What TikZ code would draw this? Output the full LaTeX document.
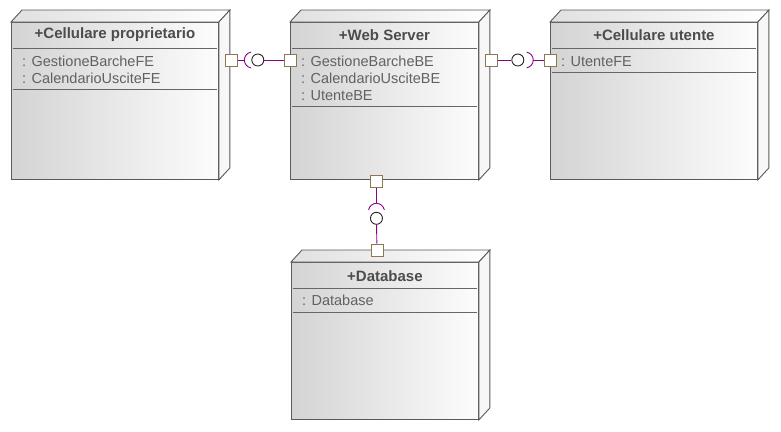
\documentclass[tikz,border=0pt]{standalone}
\usepackage{fontspec}
\setmainfont{Liberation Sans}
\usepackage{tikz}
\usetikzlibrary{positioning, calc}

\definecolor{linkpurple}{RGB}{139,0,139}
\definecolor{portbrown}{RGB}{140,120,80}

\begin{document}
\begin{tikzpicture}[
    x=1pt, y=-1pt,
    device/.style={draw=black!65, line width=0.9pt, anchor=north west, inner sep=0pt, left color=black!17, right color=black!1},
    topface/.style={draw=black!65, line width=0.9pt, left color=black!12, right color=white},
    sideface/.style={draw=black!65, line width=0.9pt, fill=black!3},
    sepline/.style={draw=black!60, line width=0.8pt},
    devtitle/.style={font=\fontsize{15}{17}\selectfont\bfseries, text=black!70, inner sep=0pt},
    attr/.style={font=\fontsize{14.5}{17}\selectfont, text=black!62, anchor=base west, inner sep=0pt},
    port/.style={draw=portbrown, fill=white, line width=0.9pt, minimum size=12pt, inner sep=0pt},
    ball/.style={circle, draw=black!85, fill=white, line width=0.9pt, minimum size=12pt, inner sep=0pt},
    link/.style={draw=linkpurple, line width=0.9pt},
]
\useasboundingbox (0,0) rectangle (781,431);

\node[device, minimum width=207pt, minimum height=157pt] (prop) at (11,22) {};
\node[device, minimum width=188pt, minimum height=157pt] (web) at (290,22) {};
\node[device, minimum width=207pt, minimum height=157pt] (utente) at (550,22) {};
\node[device, minimum width=187pt, minimum height=157pt] (db) at (291,262) {};

\foreach \n/\h in {prop/67, web/84, utente/50, db/50} {
  \draw[topface] (\n.north west) -- ++(11,-12) -- ([shift={(11,-12)}]\n.north east) -- (\n.north east) -- cycle;
  \draw[sideface] (\n.north east) -- ++(11,-12) -- ([shift={(11,-12)}]\n.south east) -- (\n.south east) -- cycle;
  \draw[sepline] ([shift={(2,26)}]\n.north west) -- ([shift={(-2,26)}]\n.north east);
  \draw[sepline] ([shift={(2,\h)}]\n.north west) -- ([shift={(-2,\h)}]\n.north east);
}

\node[devtitle] (prop-t) at ([shift={(0,13)}]prop.north) {+Cellulare proprietario};
\node[devtitle] (web-t) at ([shift={(0,13)}]web.north) {+Web Server};
\node[devtitle] (utente-t) at ([shift={(0,13)}]utente.north) {+Cellulare utente};
\node[devtitle] (db-t) at ([shift={(0,14)}]db.north) {+Database};

\node[attr] (prop-a1) at ([shift={(11,44)}]prop.north west) {: GestioneBarcheFE};
\node[attr] (prop-a2) at ([shift={(11,61)}]prop.north west) {: CalendarioUsciteFE};
\node[attr] (web-a1) at ([shift={(11,44)}]web.north west) {: GestioneBarcheBE};
\node[attr] (web-a2) at ([shift={(11,61)}]web.north west) {: CalendarioUsciteBE};
\node[attr] (web-a3) at ([shift={(11,78)}]web.north west) {: UtenteBE};
\node[attr] (utente-a1) at ([shift={(11,44)}]utente.north west) {: UtenteFE};
\node[attr] (db-a1) at ([shift={(11,43)}]db.north west) {: Database};

\node[port] (prop-p) at ([shift={(13,38)}]prop.north east) {};
\node[port] (web-pl) at ([shift={(0,38)}]web.north west) {};
\node[port] (web-pr) at ([shift={(13,38)}]web.north east) {};
\node[port] (utente-p) at ([shift={(0,38)}]utente.north west) {};
\node[port] (web-pb) at ([shift={(-8,2)}]web.south) {};
\node[port] (db-p) at ([shift={(-8,-12)}]db.north) {};

\coordinate[right=6pt of prop-p] (s1);
\node[ball, right=7pt of s1] (b1) {};
\node[ball, right=13pt of web-pr] (b2) {};
\coordinate[right=9pt of b2] (s2);
\coordinate[below=15pt of web-pb] (s3);
\node[ball, below=8.5pt of s3] (b3) {};

\draw[link] (s1) arc[start angle=180, end angle=100, radius=8pt];
\draw[link] (s1) arc[start angle=180, end angle=260, radius=8pt];
\draw[link] (s2) arc[start angle=0, end angle=80, radius=8pt];
\draw[link] (s2) arc[start angle=0, end angle=-80, radius=8pt];
\draw[link] (s3) arc[start angle=90, end angle=10, radius=8pt];
\draw[link] (s3) arc[start angle=90, end angle=170, radius=8pt];

\draw[link] (prop-p) -- (s1);
\draw[link] (b1) -- (web-pl);
\draw[link] (web-pr) -- (b2);
\draw[link] (s2) -- (utente-p);
\draw[link] (web-pb) -- (s3);
\draw[link] (b3) -- (db-p);
\end{tikzpicture}
\end{document}
